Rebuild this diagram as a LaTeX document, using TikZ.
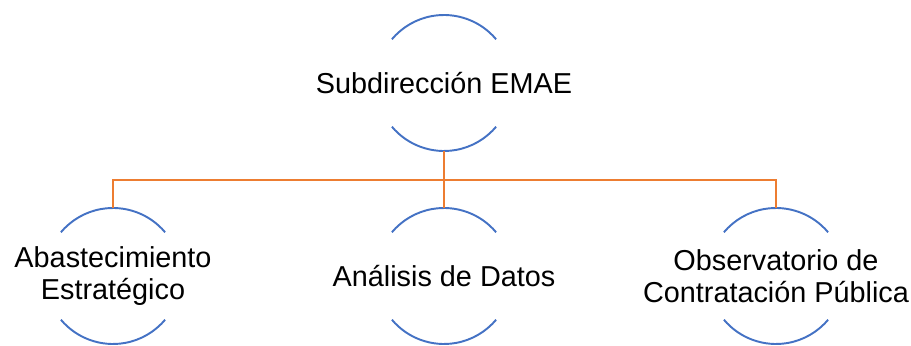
\documentclass[tikz,border=0pt]{standalone}
\usepackage{fontspec}
\setmainfont{Liberation Sans}
\usepackage{xcolor}
\usepackage{tikz}
\definecolor{ringblue}{HTML}{4472C4}
\definecolor{linkorange}{HTML}{ED7D31}

\begin{document}
\begin{tikzpicture}
            \useasboundingbox (0,0) rectangle (18.22,6.9);
            \tikzset{lbl/.style={align=center,inner sep=0pt,font=\fontsize{16.4}{18.2}\selectfont},
                     ring/.style={ringblue,line width=1.1pt},
                     link/.style={linkorange,line width=1.1pt}}

            \node[lbl] (emae) at (8.88,5.24) {Subdirección EMAE};
            \node[lbl] (abast) at (2.26,1.38) {Abastecimiento\\Estratégico};
            \node[lbl] (datos) at (8.88,1.38) {Análisis de Datos};
            \node[lbl] (obs) at (15.52,1.38) {Observatorio de\\Contratación Pública};

            \foreach \n in {emae,abast,datos,obs} {
              \draw[ring] (\n.center) +(40:1.36) arc[start angle=40,end angle=140,radius=1.36];
              \draw[ring] (\n.center) +(220:1.36) arc[start angle=220,end angle=320,radius=1.36];
            }

            \coordinate (bus) at (8.88,3.30);
            \draw[link] ([yshift=-1.36cm]emae.center) -- (bus);
            \foreach \c in {abast,datos,obs}
              \draw[link] (bus) -| ([yshift=1.36cm]\c.center);
          \end{tikzpicture}
\end{document}
